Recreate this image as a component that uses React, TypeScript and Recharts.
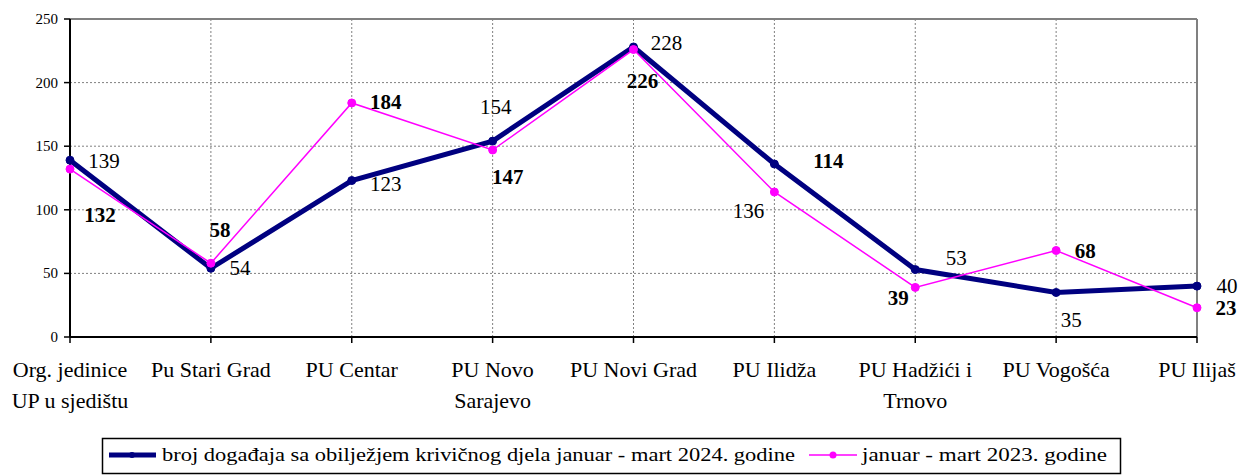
import React from "react";
import { LineChart, Line, XAxis, YAxis, CartesianGrid, ReferenceLine } from "recharts";

const categories = [
  "Org. jedinice\nUP u sjedištu",
  "Pu Stari Grad",
  "PU Centar",
  "PU Novo\nSarajevo",
  "PU Novi Grad",
  "PU Ilidža",
  "PU Hadžići i\nTrnovo",
  "PU Vogošća",
  "PU Ilijaš",
];
const series2024 = [139, 54, 123, 154, 228, 136, 53, 35, 40];
const series2023 = [132, 58, 184, 147, 226, 114, 39, 68, 23];
const yTicks = [0, 50, 100, 150, 200, 250];
const name2024 = "broj događaja sa obilježjem krivičnog djela januar - mart 2024. godine";
const name2023 = "januar - mart 2023. godine";

// label placement offsets (relative to each point)
const off2024: [number, number][] = [
  [34, 1], [29, 0], [34, 3], [3, -34], [33, -4], [-26, 47], [41, -12], [15, 28], [30, 0],
];
const off2023: [number, number][] = [
  [30, 46], [9, -33], [34, -1], [15, 27], [9, 31], [54, -31], [-17, 11], [29, 0], [29, 0],
];

const data = categories.map((c, i) => ({ cat: c, v2024: series2024[i], v2023: series2023[i] }));

const FONT = '"Liberation Serif", "Times New Roman", Tinos, serif';
const fontStyle = { fontFamily: FONT };
const NAVY = "#000080";
const MAGENTA = "#FF00FF";

const XTick = (props: any) => {
  const { x, y, payload } = props;
  const lines = String(payload.value).split("\n");
  return (
    <text x={x} y={y} textAnchor="middle" style={fontStyle} fontSize={22} fill="#000">
      {lines.map((l, i) => (
        <tspan key={i} x={x} y={y + 32 + i * 31}>{l}</tspan>
      ))}
    </text>
  );
};

const YTick = (props: any) => {
  const { x, y, payload } = props;
  return (
    <text x={x - 4} y={y} textAnchor="end" dominantBaseline="central" style={fontStyle} fontSize={15} fill="#000">
      {payload.value}
    </text>
  );
};

const makeLabel = (offs: [number, number][], bold: boolean) => (props: any) => {
  const { x, y, value, index } = props;
  const o = offs[index] || [0, 0];
  return (
    <text
      x={x + o[0]}
      y={y + o[1]}
      textAnchor="middle"
      dominantBaseline="central"
      style={fontStyle}
      fontSize={21}
      fontWeight={bold ? "bold" : "normal"}
      fill="#000"
    >
      {value}
    </text>
  );
};

export default function App() {
  return (
    <div style={{ position: "absolute", left: 0, top: 0, width: 1240, height: 476, background: "#fff", fontFamily: FONT }}>
      <LineChart
        width={1240}
        height={476}
        data={data}
        margin={{ top: 19, right: 43, bottom: 59, left: 0 }}
        style={fontStyle}
      >
        <CartesianGrid stroke="#808080" strokeDasharray="2 2" />
        <XAxis
          dataKey="cat"
          interval={0}
          height={80}
          tick={<XTick />}
          tickSize={6}
          axisLine={{ stroke: "#000", strokeWidth: 2 }}
          tickLine={{ stroke: "#000", strokeWidth: 1.5 }}
        />
        <YAxis
          width={70}
          domain={[0, 250]}
          ticks={yTicks}
          tick={<YTick />}
          tickSize={6}
          axisLine={{ stroke: "#000", strokeWidth: 2 }}
          tickLine={{ stroke: "#000", strokeWidth: 1.5 }}
        />
        <ReferenceLine y={250} stroke="#808080" strokeWidth={2} />
        <ReferenceLine x={categories[categories.length - 1]} stroke="#808080" strokeWidth={2} />
        <Line
          dataKey="v2024"
          stroke={NAVY}
          strokeWidth={5}
          dot={{ r: 4, fill: NAVY, stroke: NAVY, strokeWidth: 1 }}
          isAnimationActive={false}
          label={makeLabel(off2024, false)}
        />
        <Line
          dataKey="v2023"
          stroke={MAGENTA}
          strokeWidth={1.5}
          dot={{ r: 4, fill: MAGENTA, stroke: MAGENTA, strokeWidth: 1 }}
          isAnimationActive={false}
          label={makeLabel(off2023, true)}
        />
      </LineChart>
      <svg
        width={1240}
        height={476}
        style={{ position: "absolute", left: 0, top: 0, pointerEvents: "none" }}
      >
        <rect x={102.5} y={438.5} width={1018} height={35} fill="none" stroke="#000" strokeWidth={1.5} />
        <line x1={109} x2={156} y1={455} y2={455} stroke={NAVY} strokeWidth={5} />
        <circle cx={132} cy={455} r={3} fill={NAVY} />
        <text x={162} y={461} style={fontStyle} fontSize={18} textLength={633} lengthAdjust="spacingAndGlyphs" fill="#000">
          {name2024}
        </text>
        <line x1={809} x2={857} y1={455} y2={455} stroke={MAGENTA} strokeWidth={1.5} />
        <circle cx={833} cy={455} r={3.5} fill={MAGENTA} />
        <text x={862} y={461} style={fontStyle} fontSize={18} textLength={245} lengthAdjust="spacingAndGlyphs" fill="#000">
          {name2023}
        </text>
      </svg>
    </div>
  );
}
